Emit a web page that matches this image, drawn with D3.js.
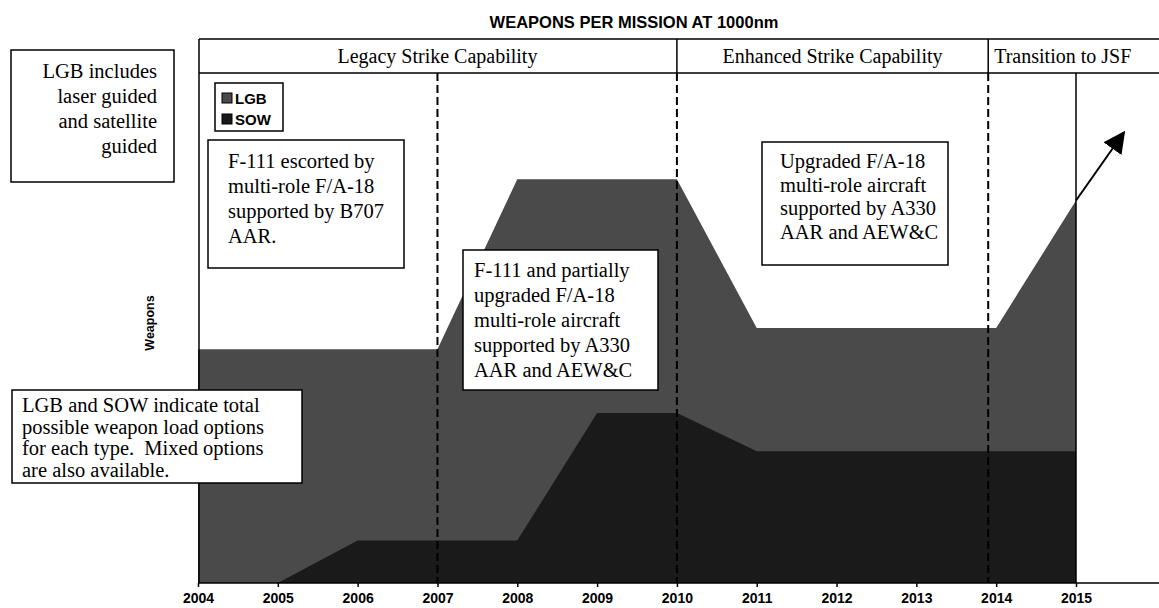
<!DOCTYPE html>
<html>
<head>
<meta charset="utf-8">
<script src="https://cdn.jsdelivr.net/npm/d3@7"></script>
<style>
  body { margin: 0; background: #fff; }
  svg { display: block; }
</style>
</head>
<body>
<svg id="chart" width="1159" height="608"></svg>
<script>
// data
const years = [2004, 2005, 2006, 2007, 2008, 2009, 2010, 2011, 2012, 2013, 2014, 2015]
const lgbYears = [2004, 2007, 2008, 2010, 2011, 2014, 2015]
const lgbValues = [11, 11, 19, 19, 12, 12, 18]
const sowYears = [2004, 2005, 2006, 2008, 2009, 2010, 2011, 2015]
const sowValues = [0, 0, 2, 2, 8, 8, 6.2, 6.2]
const phases = ["Legacy Strike Capability", "Enhanced Strike Capability", "Transition to JSF"]
const phaseStarts = [2004, 2010, 2013.9]
const arrowEnd = [2015.6, 21.2]

const noteTopLeft = ["LGB includes", "laser guided", "and satellite", "guided"]
const noteBottomLeft = ["LGB and SOW indicate total", "possible weapon load options", "for each type.  Mixed options", "are also available."]
const noteLegacy = ["F-111 escorted by", "multi-role F/A-18", "supported by B707", "AAR."]
const noteMixed = ["F-111 and partially", "upgraded F/A-18", "multi-role aircraft", "supported by A330", "AAR and AEW&C"]
const noteEnhanced = ["Upgraded F/A-18", "multi-role aircraft", "supported by A330", "AAR and AEW&C"]

const serif = "'Liberation Serif', 'Times New Roman', serif"
const sans = "'Liberation Sans', Arial, sans-serif"

const svg = d3.select("#chart")

const x = d3.scaleLinear().domain([2004, 2015]).range([198, 1076])
const y = d3.scaleLinear().domain([0, 24]).range([583, 73])

const lgbColor = "#4a4a4a"
const sowColor = "#1a1a1a"

// areas
const area = d3.area()
    .x(d => x(d[0]))
    .y0(y(0))
    .y1(d => y(d[1]))

svg.append("path")
    .datum(lgbYears.map((yr, i) => [yr, lgbValues[i]]))
    .attr("d", area)
    .attr("fill", lgbColor)

svg.append("path")
    .datum(sowYears.map((yr, i) => [yr, sowValues[i]]))
    .attr("d", area)
    .attr("fill", sowColor)

// dashed phase lines
svg.selectAll(".phase-line")
    .data(phaseStarts.slice(1).concat([2007]))
    .enter().append("line")
    .attr("x1", d => x(d)).attr("x2", d => x(d))
    .attr("y1", 73).attr("y2", 583)
    .attr("stroke", "#000")
    .attr("stroke-width", 2)
    .attr("stroke-dasharray", "8,4")

// solid line at 2015
svg.append("line")
    .attr("x1", x(2015)).attr("x2", x(2015))
    .attr("y1", 73).attr("y2", 583)
    .attr("stroke", "#000").attr("stroke-width", 1.5)

// frame + header
const frame = svg.append("g").attr("stroke", "#000").attr("stroke-width", 1.5)
frame.append("line").attr("x1", 199).attr("x2", 1159).attr("y1", 39).attr("y2", 39)
frame.append("line").attr("x1", 199).attr("x2", 1159).attr("y1", 73).attr("y2", 73)
frame.append("line").attr("x1", 199).attr("x2", 199).attr("y1", 39).attr("y2", 583)
phaseStarts.slice(1).forEach(p => {
    frame.append("line").attr("x1", x(p)).attr("x2", x(p)).attr("y1", 39).attr("y2", 73)
})

const phaseEnds = phaseStarts.slice(1).map(p => x(p)).concat([1150])
svg.selectAll(".phase")
    .data(phases)
    .enter().append("text")
    .attr("x", (d, i) => i == 2 ? x(phaseStarts[i]) + 6 : (x(phaseStarts[i]) + phaseEnds[i]) / 2)
    .attr("y", 63)
    .attr("text-anchor", (d, i) => i == 2 ? "start" : "middle")
    .style("font", `20px ${serif}`)
    .text(d => d)

// x axis
const xAxis = d3.axisBottom(x)
    .tickValues(years)
    .tickFormat(d3.format("d"))
    .tickSize(4)
    .tickSizeOuter(0)

const ax = svg.append("g")
    .attr("transform", `translate(0, 583)`)
    .call(xAxis)
ax.select(".domain").remove()
ax.append("line").attr("x1", 198).attr("x2", 1159).attr("stroke", "#000").attr("stroke-width", 1.5)
ax.selectAll(".tick line").attr("stroke-width", 1.5)
ax.selectAll("text")
    .attr("dy", "0.95em")
    .style("font", `bold 14px ${sans}`)
    .attr("fill", "#000")

// title + y label
svg.append("text")
    .attr("x", 634).attr("y", 28)
    .attr("text-anchor", "middle")
    .style("font", `bold 16.5px ${sans}`)
    .text("WEAPONS PER MISSION AT 1000nm")

svg.append("text")
    .attr("transform", "translate(154, 323) rotate(-90)")
    .attr("text-anchor", "middle")
    .style("font", `bold 12.5px ${sans}`)
    .text("Weapons")

// arrow
svg.append("defs").append("marker")
    .attr("id", "head")
    .attr("viewBox", "0 0 10 10")
    .attr("refX", 9).attr("refY", 5)
    .attr("markerWidth", 22).attr("markerHeight", 22)
    .attr("markerUnits", "userSpaceOnUse")
    .attr("orient", "auto")
    .append("path").attr("d", "M0,0 L10,5 L0,10 z").attr("fill", "#000")

svg.append("line")
    .attr("x1", x(2015)).attr("y1", y(18))
    .attr("x2", x(arrowEnd[0])).attr("y2", y(arrowEnd[1]))
    .attr("stroke", "#000").attr("stroke-width", 2)
    .attr("marker-end", "url(#head)")

// text boxes
const note = (lines, bx, by, bw, bh, tx, anchor, first, lh) => {
    const g = svg.append("g")
    g.append("rect")
        .attr("x", bx).attr("y", by).attr("width", bw).attr("height", bh)
        .attr("fill", "#fff").attr("stroke", "#000").attr("stroke-width", 1.5)
    g.selectAll("text")
        .data(lines)
        .enter().append("text")
        .attr("x", tx)
        .attr("y", (d, i) => by + first + lh * i)
        .attr("text-anchor", anchor)
        .style("font", `20.5px ${serif}`)
        .style("white-space", "pre")
        .text(d => d)
}

note(noteTopLeft, 11, 50, 163, 132, 157, "end", 28, 25)
note(noteBottomLeft, 12, 390, 290, 93, 22, "start", 22, 21.5)
note(noteLegacy, 208, 140, 196, 128, 228, "start", 28, 25)
note(noteMixed, 463, 250, 195, 140, 474, "start", 27, 25)
note(noteEnhanced, 762, 142, 186, 123, 780, "start", 26, 23.5)

// legend
const legend = svg.append("g")
legend.append("rect")
    .attr("x", 215).attr("y", 83).attr("width", 68).attr("height", 48)
    .attr("fill", "#fff").attr("stroke", "#000").attr("stroke-width", 1.5)
const legendItems = ["LGB", "SOW"]
const legendColors = [lgbColor, sowColor]
legendItems.forEach((d, i) => {
    legend.append("rect")
        .attr("x", 222).attr("y", 93 + i * 21).attr("width", 10).attr("height", 10)
        .attr("fill", legendColors[i]).attr("stroke", "#000")
    legend.append("text")
        .attr("x", 235).attr("y", 104 + i * 21)
        .style("font", `bold 15px ${sans}`)
        .text(d)
})
</script>
</body>
</html>
